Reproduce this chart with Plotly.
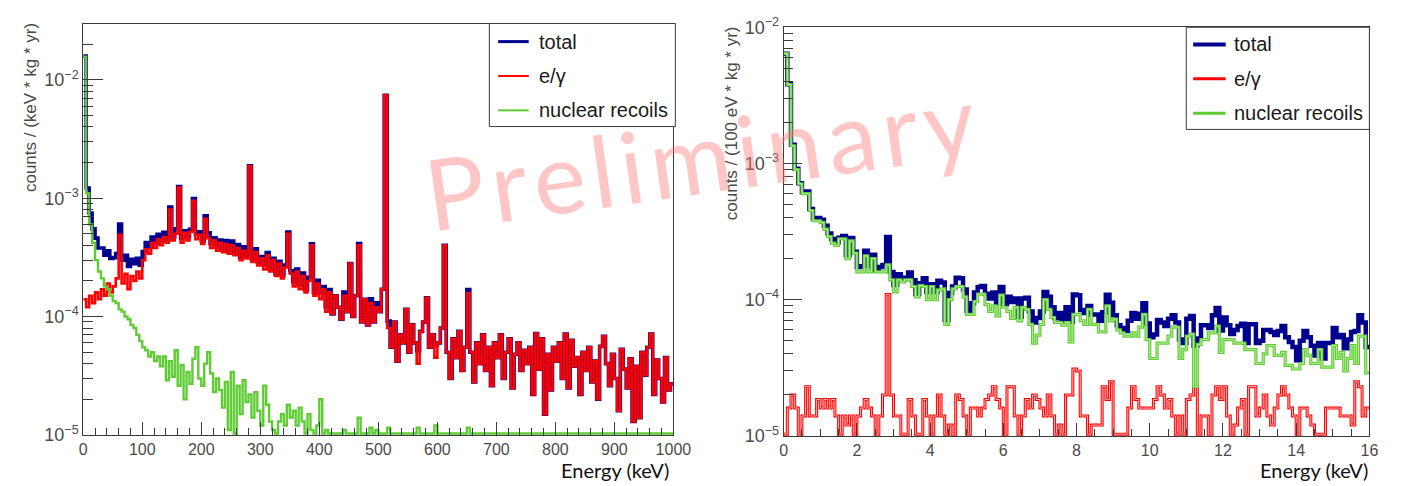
import plotly.graph_objects as go

W, H = 1412, 486
UNIT = 1e-5  # histogram contents below are listed in units of 1e-5

# ---------------- left spectrum: 0-1000 keV, 5 keV bins ----------------
LEFT_BIN = 5.0
left_eg = [
    14, 12, 15, 13, 16, 14, 17, 15, 19, 16,
    18, 21, 49, 19, 23, 17, 22, 20, 24, 21,
    30, 37, 34, 42, 38, 45, 40, 47, 42, 80,
    44, 50, 123, 42, 51, 44, 52, 95, 45, 49,
    41, 67, 46, 38, 44, 36, 42, 35, 41, 34,
    40, 33, 38, 30, 36, 31, 186, 29, 35, 27,
    31, 25, 33, 24, 30, 22, 28, 21, 26, 50,
    23, 18, 24, 17, 22, 16, 20, 40, 15, 19,
    14, 17, 11, 16, 10.5, 15, 12, 9.5, 15, 11,
    28, 10, 15, 40, 9, 14, 8.5, 13, 9, 12,
    11, 17, 740, 8, 5.5, 9, 4.2, 7, 6, 11.5,
    5, 8.5, 6, 4, 7.5, 9, 14.4, 5.5, 7, 4.5,
    6, 8, 40, 5, 3, 6.5, 4.5, 7.5, 3.5, 5.5,
    15.8, 5, 2.8, 6, 4, 7, 3.5, 5.5, 2.6, 6,
    4.5, 7, 3, 5, 6.5, 2.5, 4.8, 6, 3.5, 5.2,
    4, 5.5, 2.2, 7.2, 3.6, 6.5, 1.5, 4.8, 2.4, 5.5,
    4.2, 6, 3, 7.1, 2.5, 6.3, 3.8, 4.5, 2.2, 5,
    3.5, 5.5, 2.8, 4.2, 2, 5.6, 6.8, 4, 2.6, 4.8,
    3, 1.6, 5.3, 3.6, 2.5, 4.4, 1.3, 3.8, 1.4, 5,
    3.2, 5.5, 7.1, 2.2, 4.3, 3, 1.9, 4.5, 2.4, 2.7,
]
left_nr = [
    1570, 110, 60, 42, 30, 24, 21, 18, 17, 15,
    13.5, 13, 11.5, 11, 10, 9.5, 8.5, 8, 7, 6.2,
    5.5, 5.2, 4.6, 5, 4.2, 4.6, 3.8, 4.6, 2.9, 4.2,
    3.1, 5.2, 2.6, 3.9, 2.0, 3.4, 2.7, 4.4, 5.5, 3.0,
    2.6, 4.0, 5.0, 3.3, 2.3, 3.0, 2.4, 1.7, 2.8, 1.1,
    3.4, 0.9, 2.6, 1.5, 2.9, 1.9, 2.2, 1.4, 2.3, 1.6,
    1.2, 2.6, 1.8, 1.3, 1.1, 0.9, 1.3, 1.5, 1.2, 1.8,
    1.4, 1.6, 1.2, 1.7, 1.3, 0.9, 1.5, 1.1, 0.9, 1.2,
    2.0, 0.9, 1.1, 0.9, 0, 0, 0, 0, 1.1, 0,
    0, 0, 0, 1.4, 0, 0, 0, 1.15, 0, 1.1,
    0, 0, 0, 1.15, 0, 0, 0, 0, 0, 0,
    0, 0, 0, 1.15, 0, 0, 0, 0, 0, 1.2,
    0, 0, 0, 0, 0, 0, 0, 0, 0, 0,
    1.15, 0, 0, 0, 0, 0, 0, 0, 0, 0,
    0, 0, 0, 0, 0, 0, 0, 0, 0, 0,
    0, 0, 0, 0, 0, 0, 0, 0, 0, 0,
    0, 0, 0, 0, 0, 0, 0, 0, 0, 0,
    0, 0, 0, 0, 0, 0, 0, 0, 0, 0,
    0, 0, 0, 0, 0, 0, 0, 0, 0, 0,
    0, 0, 0, 0, 0, 0, 0, 0, 0, 0,
]

# ---------------- right spectrum: 0-16 keV, 100 eV bins ----------------
RIGHT_BIN = 0.1
right_eg = [
    0.5, 1.6, 2.0, 1.6, 0.5, 1.4, 2.3, 1.4, 1.4, 1.85,
    1.6, 1.85, 1.6, 1.85, 1.4, 0.5, 1.4, 1.2, 1.4, 0.5,
    1.4, 1.6, 1.85, 1.6, 1.4, 0.5, 1.4, 2.0, 10.9, 2.0,
    1.4, 1.4, 0.5, 0.5, 1.85, 1.4, 0.5, 0.5, 1.85, 1.4,
    0.5, 1.4, 2.0, 1.4, 0.5, 1.2, 0.5, 2.0, 1.85, 1.4,
    0.5, 1.6, 1.6, 1.4, 1.6, 1.85, 2.0, 2.3, 1.85, 1.6,
    0.5, 2.3, 2.3, 1.4, 0.5, 1.4, 1.85, 1.6, 2.0, 1.85,
    1.6, 1.4, 2.0, 1.4, 0.5, 1.2, 0.5, 2.0, 2.0, 3.1,
    3.0, 1.4, 1.4, 0.5, 1.2, 1.2, 1.2, 2.3, 1.85, 2.5,
    0.5, 0.5, 0.5, 0.5, 1.6, 2.3, 1.85, 1.6, 1.6, 1.6,
    1.6, 1.85, 2.3, 2.0, 1.6, 1.85, 1.4, 0.5, 1.4, 0.5,
    1.85, 2.0, 2.3, 0.5, 1.4, 1.4, 0.5, 2.0, 2.3, 1.85,
    2.3, 1.4, 0.5, 1.2, 1.6, 1.85, 0.5, 2.3, 2.3, 1.4,
    1.6, 2.0, 1.4, 1.2, 1.6, 2.0, 2.3, 2.0, 1.6, 1.4,
    0.5, 1.6, 1.6, 1.4, 1.2, 0.5, 0.5, 0.5, 1.6, 1.6,
    1.6, 1.6, 1.4, 1.4, 1.4, 1.2, 2.5, 2.3, 1.4, 1.6,
]
right_nr = [
    640, 380, 135, 90, 71, 60, 60, 45, 38, 38,
    37, 33, 29, 26, 25, 28, 28, 20, 27, 22,
    16, 16, 21, 16, 20, 16, 16, 16, 18, 14,
    11.4, 14, 13.5, 14, 14, 12.5, 10.5, 12.7, 12.5, 10,
    12.5, 10, 11.8, 12, 6.6, 10, 12, 12.5, 12.5, 10.5,
    7.8, 7.8, 9.7, 11, 11, 9.2, 8.2, 9, 7.6, 10.8,
    8.8, 8.2, 7.3, 8.8, 7.0, 8.8, 8.5, 6.6, 4.8, 5.5,
    6.6, 10, 8.5, 7.4, 6.8, 6.8, 6.5, 6.8, 4.9, 7.8,
    7.8, 7.0, 6.6, 8.5, 6.6, 6.6, 5.8, 5.8, 9.0, 7.0,
    7.2, 6.0, 5.7, 5.4, 5.4, 5.7, 5.4, 6.3, 7.8, 5.1,
    3.7, 3.7, 4.8, 4.8, 4.8, 5.4, 6.3, 6.3, 3.7, 4.3,
    5.4, 5.6, 2.3, 4.7, 5.1, 5.1, 5.7, 5.7, 6.4, 4.1,
    5.1, 5.1, 5.1, 4.8, 4.8, 4.8, 4.3, 4.3, 4.3, 3.4,
    3.4, 4.0, 4.6, 4.6, 3.9, 3.9, 4.1, 3.3, 3.3, 3.1,
    3.1, 3.4, 4.3, 3.9, 3.4, 3.4, 4.3, 3.2, 3.2, 3.2,
    4.6, 3.7, 4.1, 3.0, 3.7, 4.6, 3.4, 5.4, 5.4, 2.9,
]

series_names = ["total", "e/γ", "nuclear recoils"]
left_xticks = list(range(0, 1001, 100))
right_xticks = list(range(0, 17, 2))
decades = [1e-5, 1e-4, 1e-3, 1e-2]
decade_labels = ["10<sup>−5</sup>", "10<sup>−4</sup>", "10<sup>−3</sup>", "10<sup>−2</sup>"]
minor_log = [k * d for d in decades for k in range(2, 10)]

LEFT_YRANGE = [-5, -1.532]
RIGHT_YRANGE = [-5, -2]

C_TOTAL = "#00008f"
C_EG = "#ff0000"
C_NR = "#5fcc35"
FRAME = "#3a3a3a"
GRAY = "#4a4a4a"
FLOOR = 1.03e-5  # empty bins are drawn along the lower frame edge


def px(x):
    return x / W


def py(y):
    return 1 - y / H


def steps(values, width):
    xs = [i * width for i in range(len(values) + 1)]
    ys = [max(v * UNIT, FLOOR) for v in values]
    ys.append(ys[-1])
    return xs, ys


def add_hist(fig, values, width, color, lw, xa, ya, name, inner=None):
    xs, ys = steps(values, width)
    fig.add_trace(go.Scatter(x=xs, y=ys, mode="lines", line=dict(color=color, width=lw, shape="hv"),
                             xaxis=xa, yaxis=ya, name=name, showlegend=False, hoverinfo="skip"))
    if inner:
        fig.add_trace(go.Scatter(x=xs, y=ys, mode="lines", line=dict(color=inner, width=1, shape="hv"),
                                 xaxis=xa, yaxis=ya, showlegend=False, hoverinfo="skip"))


fig = go.Figure()

left_total = [a + b for a, b in zip(left_eg, left_nr)]
right_total = [a + b for a, b in zip(right_eg, right_nr)]

add_hist(fig, left_total, LEFT_BIN, C_TOTAL, 3.6, "x", "y", series_names[0])
add_hist(fig, left_eg, LEFT_BIN, C_EG, 2.6, "x", "y", series_names[1])
add_hist(fig, left_nr, LEFT_BIN, C_NR, 2.4, "x", "y", series_names[2])

add_hist(fig, right_total, RIGHT_BIN, C_TOTAL, 4.5, "x2", "y2", series_names[0])
add_hist(fig, right_eg, RIGHT_BIN, C_EG, 3, "x2", "y2", series_names[1], inner="#ffb4b4")
add_hist(fig, right_nr, RIGHT_BIN, C_NR, 3.2, "x2", "y2", series_names[2], inner="#b8ec9c")

tickfont = dict(family="Liberation Sans, Arial, sans-serif", size=16, color=GRAY)


def xaxis(domain, rng, ticks, minor_dtick, anchor):
    return dict(domain=domain, range=rng, anchor=anchor, showline=True, mirror=True,
                linecolor=FRAME, linewidth=1, ticks="inside", ticklen=13, tickwidth=1,
                tickcolor=FRAME, tickmode="array", tickvals=ticks, ticktext=[str(t) for t in ticks],
                minor=dict(tickmode="linear", tick0=0, dtick=minor_dtick, ticks="inside",
                           ticklen=7, tickwidth=1, tickcolor=FRAME),
                tickfont=tickfont, showgrid=False, zeroline=False, fixedrange=True)


def yaxis(domain, rng, anchor, major_len, minor_len):
    return dict(domain=domain, type="log", range=rng, anchor=anchor, showline=True, mirror=True,
                linecolor=FRAME, linewidth=1, ticks="inside", ticklen=major_len, tickwidth=1,
                tickcolor=FRAME, tickmode="array", tickvals=decades, ticktext=decade_labels,
                minor=dict(tickmode="array", tickvals=minor_log, ticks="inside",
                           ticklen=minor_len, tickwidth=1, tickcolor=FRAME),
                tickfont=dict(family="Liberation Sans, Arial, sans-serif", size=18, color=GRAY),
                showgrid=False, zeroline=False, fixedrange=True)


fig.update_layout(
    width=W, height=H, margin=dict(l=0, r=0, t=0, b=0),
    paper_bgcolor="white", plot_bgcolor="white", showlegend=False,
    xaxis=xaxis([px(80.5), px(680)], [0, 1000], left_xticks, 20, "y"),
    yaxis=yaxis([py(443), py(13)], LEFT_YRANGE, "x", 20, 10),
    xaxis2=xaxis([px(792), px(1387)], [0, 16], right_xticks, 0.5, "y2"),
    yaxis2=yaxis([py(444), py(16)], RIGHT_YRANGE, "x2", 18, 9),
)

annotations = []
shapes = []

# axis titles
ytitle_font = dict(family="Liberation Sans, Arial, sans-serif", size=17, color=GRAY)
annotations.append(dict(x=px(27), y=py(100), xref="paper", yref="paper", text="counts / (keV * kg * yr)",
                        textangle=-90, showarrow=False, font=ytitle_font, xanchor="center", yanchor="middle"))
annotations.append(dict(x=px(739), y=py(116), xref="paper", yref="paper", text="counts / (100 eV * kg * yr)",
                        textangle=-90, showarrow=False, font=ytitle_font, xanchor="center", yanchor="middle"))
xtitle_font = dict(family="Lato, Carlito, sans-serif", size=20, color="#111111")
for xr in (677, 1387):
    annotations.append(dict(x=px(xr), y=py(493), xref="paper", yref="paper", text="Energy (keV)",
                            showarrow=False, font=xtitle_font, xanchor="right", yanchor="bottom",
                            borderpad=0))

# legend boxes
legend_font = dict(family="Liberation Sans, Arial, sans-serif", size=20, color="#1a1a1a")
legend_boxes = [
    dict(box=(493, 12, 682, 120), line_x=(502, 533), text_x=541, rows=(31, 67, 103), widths=(3, 2, 2)),
    dict(box=(1201, 16, 1387, 123), line_x=(1208, 1241), text_x=1247, rows=(34, 70, 106), widths=(4, 3, 3)),
]
for lb in legend_boxes:
    x0, y0, x1, y1 = lb["box"]
    shapes.append(dict(type="rect", xref="paper", yref="paper", x0=px(x0), x1=px(x1), y0=py(y1), y1=py(y0),
                       line=dict(color=FRAME, width=1), fillcolor="white", layer="above"))
    for name, color, row, lw in zip(series_names, (C_TOTAL, C_EG, C_NR), lb["rows"], lb["widths"]):
        shapes.append(dict(type="line", xref="paper", yref="paper", x0=px(lb["line_x"][0]), x1=px(lb["line_x"][1]),
                           y0=py(row), y1=py(row), line=dict(color=color, width=lw), layer="above"))
        annotations.append(dict(x=px(lb["text_x"]), y=py(row), xref="paper", yref="paper", text=name,
                                showarrow=False, font=legend_font, xanchor="left", yanchor="middle"))

# watermark
annotations.append(dict(x=px(706), y=py(150), xref="paper", yref="paper",
                        text="\u200a".join("Preliminary"), textangle=-8, showarrow=False,
                        font=dict(family="Lato, Carlito, sans-serif", size=99, color="rgba(255,120,120,0.42)"),
                        xanchor="center", yanchor="middle"))

fig.update_layout(annotations=annotations, shapes=shapes)
fig.write_html("out.html", config={"displayModeBar": False})
